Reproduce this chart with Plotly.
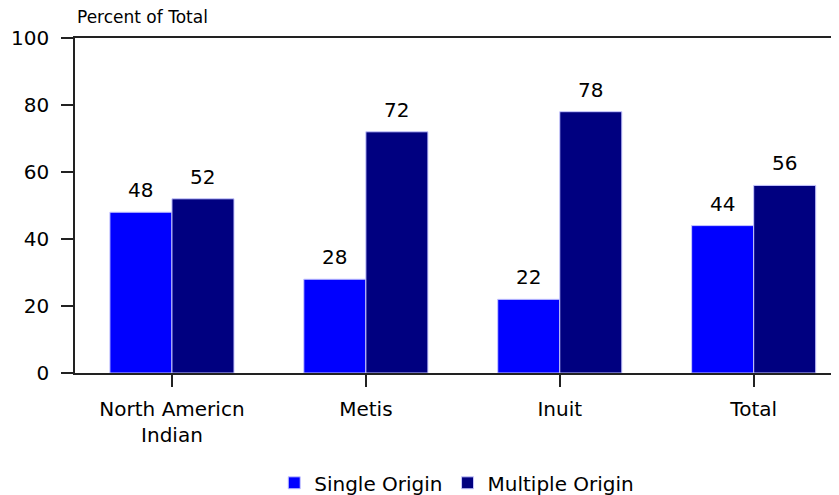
import plotly.graph_objects as go

categories = ["North Americn<br>Indian", "Metis", "Inuit", "Total"]
single_origin = [48, 28, 22, 44]
multiple_origin = [52, 72, 78, 56]
y_ticks = [0, 20, 40, 60, 80, 100]

FONT = "DejaVu Sans"
BAR_HALF = 0.16  # offset of each bar centre from the category centre

fig = go.Figure()
fig.add_trace(go.Bar(
    name="Single Origin", x=categories, y=single_origin,
    marker=dict(color="#0000FF", line=dict(color="#c8c8ff", width=1)),
))
fig.add_trace(go.Bar(
    name="Multiple Origin", x=categories, y=multiple_origin,
    marker=dict(color="#000080", line=dict(color="#c8c8ff", width=1)),
))

annotations = [dict(text="Percent of Total", xref="paper", yref="paper",
                    x=0, y=1, xanchor="left", yanchor="bottom", yshift=9,
                    showarrow=False, font=dict(size=17, family=FONT))]
for i, (s, m) in enumerate(zip(single_origin, multiple_origin)):
    annotations.append(dict(x=i - BAR_HALF, y=s, xref="x", yref="y", text=str(s),
                            showarrow=False, yanchor="bottom", yshift=8,
                            font=dict(size=20, family=FONT, color="black")))
    annotations.append(dict(x=i + BAR_HALF, y=m, xref="x", yref="y", text=str(m),
                            showarrow=False, yanchor="bottom", yshift=8,
                            font=dict(size=20, family=FONT, color="black")))

fig.update_layout(
    width=831, height=487,
    margin=dict(l=67, r=0, t=30, b=122),
    paper_bgcolor="white", plot_bgcolor="white",
    font=dict(family=FONT, size=20, color="black"),
    barmode="group", bargap=0.36, bargroupgap=0,
    showlegend=True,
    legend=dict(orientation="h", x=0.54, xref="container", xanchor="center",
                y=0.025, yref="container", yanchor="middle",
                font=dict(size=20), traceorder="normal"),
    annotations=annotations,
)
fig.update_xaxes(
    range=[-0.5, 3.44], showline=True, linecolor="#222", linewidth=1.5,
    mirror=True, ticks="outside", ticklen=12, tickcolor="#222", tickwidth=1.5,
    showgrid=False, tickfont=dict(size=20), automargin=False, ticklabelstandoff=5,
)
fig.update_yaxes(
    range=[0, 100], tickvals=y_ticks, showline=True, linecolor="#222",
    linewidth=1.5, ticks="outside", ticklen=12, tickcolor="#222", tickwidth=1.5,
    showgrid=False, zeroline=False, tickfont=dict(size=20), ticklabelstandoff=8,
    automargin=False,
)

fig.write_html("out.html")
